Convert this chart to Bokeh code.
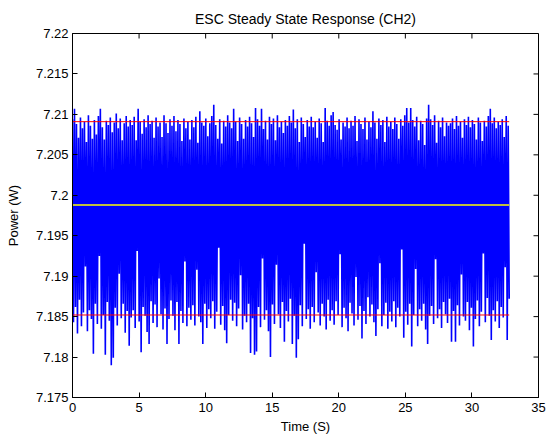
import numpy as np
from bokeh.plotting import figure
from bokeh.models import FixedTicker, Range1d
from bokeh.embed import file_html
from bokeh.resources import INLINE

# ---- data ----
duration = 32.8          # seconds of recorded samples
upper_limit = 7.2091     # red line (upper)
lower_limit = 7.1852     # red line (lower)
mean_level = 7.1988      # yellow line (mean)

power = [
    7.2094, 7.1843, 7.2107, 7.1862, 7.2088, 7.1829, 7.2071, 7.1871, 7.2096, 7.1838, 7.2083, 7.1855, 7.2091, 7.1912, 7.2066, 7.1832, 7.2099, 7.1858, 7.2086, 7.1847,
    7.2070, 7.1804, 7.2093, 7.1866, 7.2075, 7.1841, 7.2098, 7.1925, 7.2107, 7.1835, 7.2084, 7.1852, 7.2069, 7.1803, 7.2092, 7.1868, 7.2087, 7.1845, 7.2096, 7.1790,
    7.2078, 7.1799, 7.2090, 7.1861, 7.2101, 7.1839, 7.2083, 7.1903, 7.2095, 7.1848, 7.2068, 7.1866, 7.2089, 7.1830, 7.2098, 7.1857, 7.2085, 7.1814, 7.2093, 7.1849,
    7.2087, 7.1858, 7.2097, 7.1836, 7.2068, 7.1931, 7.2107, 7.1844, 7.2091, 7.1806, 7.2076, 7.1862, 7.2094, 7.1851, 7.2084, 7.1831, 7.2099, 7.1816, 7.2088, 7.1869,
    7.2092, 7.1842, 7.2071, 7.1865, 7.2096, 7.1837, 7.2085, 7.1897, 7.2090, 7.1853, 7.2072, 7.1834, 7.2099, 7.1860, 7.2089, 7.1816, 7.2077, 7.1847, 7.2094, 7.1870,
    7.2086, 7.1851, 7.2098, 7.1833, 7.2079, 7.1868, 7.2093, 7.1816, 7.2088, 7.1857, 7.2067, 7.1842, 7.2095, 7.1918, 7.2083, 7.1838, 7.2091, 7.1861, 7.2069, 7.1846,
    7.2093, 7.1864, 7.2084, 7.1839, 7.2097, 7.1908, 7.2065, 7.1850, 7.2104, 7.1843, 7.2090, 7.1816, 7.2086, 7.1866, 7.2095, 7.1836, 7.2073, 7.1859, 7.2089, 7.1848,
    7.2098, 7.1869, 7.2112, 7.1835, 7.2087, 7.1856, 7.2070, 7.1935, 7.2094, 7.1840, 7.2064, 7.1863, 7.2092, 7.1833, 7.2085, 7.1817, 7.2099, 7.1852, 7.2090, 7.1871,
    7.2083, 7.1845, 7.2107, 7.1867, 7.2091, 7.1838, 7.2067, 7.1860, 7.2096, 7.1901, 7.2088, 7.1834, 7.2070, 7.1851, 7.2093, 7.1843, 7.2085, 7.1866, 7.2097, 7.1805,
    7.2089, 7.1848, 7.2072, 7.1803, 7.2108, 7.1807, 7.2094, 7.1862, 7.2086, 7.1837, 7.2107, 7.1922, 7.2082, 7.1846, 7.2092, 7.1858, 7.2069, 7.1832, 7.2097, 7.1800,
    7.2088, 7.1865, 7.2095, 7.1841, 7.2068, 7.1914, 7.2099, 7.1853, 7.2084, 7.1836, 7.2091, 7.1868, 7.2077, 7.1819, 7.2093, 7.1857, 7.2086, 7.1844, 7.2098, 7.1872,
    7.2090, 7.1816, 7.2106, 7.1851, 7.2083, 7.1799, 7.2094, 7.1822, 7.2066, 7.1864, 7.2096, 7.1838, 7.2088, 7.1940, 7.2072, 7.1847, 7.2093, 7.1859, 7.2085, 7.1835,
    7.2097, 7.1862, 7.2084, 7.1843, 7.2091, 7.1905, 7.2071, 7.1855, 7.2095, 7.1839, 7.2089, 7.1866, 7.2066, 7.1850, 7.2108, 7.1834, 7.2092, 7.1871, 7.2086, 7.1845,
    7.2099, 7.1858, 7.2103, 7.1840, 7.2087, 7.1869, 7.2081, 7.1852, 7.2094, 7.1927, 7.2069, 7.1837, 7.2090, 7.1861, 7.2085, 7.1848, 7.2096, 7.1832, 7.2083, 7.1867,
    7.2092, 7.1854, 7.2086, 7.1839, 7.2098, 7.1899, 7.2067, 7.1846, 7.2094, 7.1863, 7.2088, 7.1823, 7.2082, 7.1857, 7.2096, 7.1841, 7.2069, 7.1874, 7.2091, 7.1850,
    7.2084, 7.1865, 7.2104, 7.1843, 7.2090, 7.1826, 7.2070, 7.1859, 7.2095, 7.1916, 7.2087, 7.1838, 7.2093, 7.1852, 7.2066, 7.1867, 7.2097, 7.1835, 7.2085, 7.1856,
    7.2091, 7.1844, 7.2082, 7.1869, 7.2096, 7.1837, 7.2088, 7.1861, 7.2070, 7.1850, 7.2094, 7.1933, 7.2086, 7.1824, 7.2099, 7.1856, 7.2108, 7.1840, 7.2090, 7.1866,
    7.2108, 7.1813, 7.2093, 7.1852, 7.2085, 7.1909, 7.2097, 7.1838, 7.2068, 7.1859, 7.2092, 7.1845, 7.2088, 7.1866, 7.2062, 7.1834, 7.2095, 7.1816, 7.2112, 7.1851,
    7.2094, 7.1863, 7.2087, 7.1841, 7.2099, 7.1921, 7.2065, 7.1848, 7.2092, 7.1859, 7.2084, 7.1836, 7.2096, 7.1868, 7.2073, 7.1853, 7.2090, 7.1842, 7.2086, 7.1872,
    7.2089, 7.1819, 7.2095, 7.1857, 7.2082, 7.1819, 7.2098, 7.1864, 7.2086, 7.1839, 7.2091, 7.1902, 7.2071, 7.1850, 7.2094, 7.1845, 7.2087, 7.1868, 7.2097, 7.1833,
    7.2084, 7.1861, 7.2093, 7.1813, 7.2088, 7.1847, 7.2069, 7.1870, 7.2096, 7.1838, 7.2090, 7.1856, 7.2067, 7.1928, 7.2092, 7.1843, 7.2085, 7.1873, 7.2098, 7.1851,
    7.2107, 7.1821, 7.2089, 7.1858, 7.2096, 7.1844, 7.2083, 7.1869, 7.2091, 7.1836, 7.2087, 7.1862, 7.2094, 7.1849, 7.2072, 7.1911, 7.2098, 7.1821, 7.2086, 7.1872,
]
time = np.linspace(0.0, duration, len(power))

x_min, x_max = 0, 35
y_min, y_max = 7.175, 7.22
x_ticks = [0, 5, 10, 15, 20, 25, 30, 35]
y_ticks = [7.175, 7.18, 7.185, 7.19, 7.195, 7.2, 7.205, 7.21, 7.215, 7.22]
y_tick_labels = ["7.175", "7.18", "7.185", "7.19", "7.195", "7.2", "7.205", "7.21", "7.215", "7.22"]

FONT = "Liberation Sans"

p = figure(width=547, height=436, output_backend="svg", toolbar_location=None,
           x_range=Range1d(x_min, x_max), y_range=Range1d(y_min, y_max),
           min_border_left=72, min_border_right=9, min_border_top=33, min_border_bottom=39,
           title="ESC Steady State Response (CH2)")
p.title.align = "center"
p.title.text_font = FONT
p.title.text_font_size = "14px"
p.title.text_font_style = "normal"
p.title.text_color = "black"
p.title.standoff = 14

p.xgrid.visible = False
p.ygrid.visible = False
p.outline_line_color = "black"
p.outline_line_width = 1
p.background_fill_color = "white"
p.border_fill_color = "white"

p.line(time, power, line_color="#0000FF", line_width=1.6)
p.line([time[0], time[-1]], [upper_limit, upper_limit], line_color="#FF0000", line_width=1)
p.line([time[0], time[-1]], [lower_limit, lower_limit], line_color="#FF0000", line_width=1)
p.line([time[0], time[-1]], [mean_level, mean_level], line_color="#FFFF00", line_width=1.5)

# mirrored inward ticks on the top and right edges (box style)
p.ray(x=x_ticks, y=[y_max] * len(x_ticks), length=5, length_units="screen",
      angle=-np.pi / 2, line_color="black", line_width=1)
p.ray(x=[x_max] * len(y_ticks), y=y_ticks, length=5, length_units="screen",
      angle=np.pi, line_color="black", line_width=1)

xa = p.xaxis[0]
xa.ticker = FixedTicker(ticks=x_ticks)
xa.axis_label = "Time (S)"
ya = p.yaxis[0]
ya.ticker = FixedTicker(ticks=y_ticks)
ya.major_label_overrides = {t: s for t, s in zip(y_ticks, y_tick_labels)}
ya.axis_label = "Power (W)"

for ax in (xa, ya):
    ax.major_tick_in = 5
    ax.major_tick_out = 0
    ax.minor_tick_in = 0
    ax.minor_tick_out = 0
    ax.axis_line_color = "black"
    ax.major_tick_line_color = "black"
    ax.major_label_text_font = FONT
    ax.major_label_text_font_size = "13px"
    ax.major_label_text_color = "black"
    ax.axis_label_text_font = FONT
    ax.axis_label_text_font_size = "13px"
    ax.axis_label_text_font_style = "normal"
    ax.axis_label_text_color = "black"
xa.major_label_standoff = 5
xa.axis_label_standoff = 4
ya.major_label_standoff = 4
ya.axis_label_standoff = 12

open("out.html", "w").write(file_html(p, INLINE))
